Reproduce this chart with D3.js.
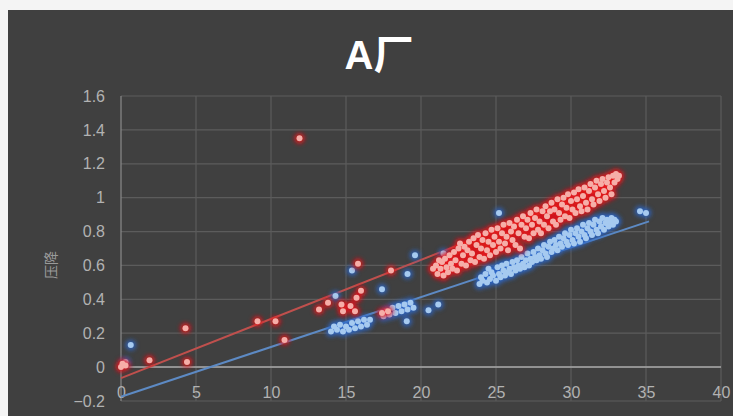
<!DOCTYPE html>
<html>
<head>
<meta charset="utf-8">
<script src="https://cdn.jsdelivr.net/npm/d3@7"></script>
<style>
  body { margin: 0; background: #f4f4f4; }
  svg { display: block; }
</style>
</head>
<body>
<svg id="canvas"></svg>
<script>
const width = 733;
const height = 416;

const title = 'A厂';
const yLabel = '压降';
const xTicks = [0, 5, 10, 15, 20, 25, 30, 35, 40];
const yTicks = [-0.2, 0, 0.2, 0.4, 0.6, 0.8, 1, 1.2, 1.4, 1.6];

// red series: scattered points, then the dense band
const redPoints = [
  [0, 0.0], [0.1, 0.02], [0.3, 0.01], [1.9, 0.04], [4.3, 0.23], [4.4, 0.03],
  [9.1, 0.27], [10.3, 0.27], [10.9, 0.16], [11.9, 1.35], [13.2, 0.34], [13.8, 0.38],
  [14.7, 0.37], [14.8, 0.33], [15.3, 0.36], [15.6, 0.33], [15.7, 0.41], [16.0, 0.45],
  [15.8, 0.61], [17.4, 0.32], [17.8, 0.33], [18.0, 0.57], [20.8, 0.58],
  [21.0, 0.60], [21.1, 0.55], [21.2, 0.63], [21.3, 0.58], [21.4, 0.62], [21.5, 0.54],
  [21.6, 0.64], [21.7, 0.59], [21.8, 0.56], [21.9, 0.66], [22.0, 0.61], [22.1, 0.58],
  [22.2, 0.68], [22.3, 0.63], [22.4, 0.57], [22.5, 0.70], [22.6, 0.73], [22.7, 0.61],
  [22.8, 0.66], [22.9, 0.71], [23.0, 0.60], [23.1, 0.69], [23.2, 0.74], [23.3, 0.63],
  [23.4, 0.67], [23.5, 0.76], [23.6, 0.62], [23.7, 0.72], [23.8, 0.78], [23.9, 0.65],
  [24.0, 0.70], [24.1, 0.75], [24.2, 0.64], [24.3, 0.79], [24.4, 0.69], [24.5, 0.74],
  [24.6, 0.66], [24.7, 0.81], [24.8, 0.72], [24.9, 0.77], [25.0, 0.68], [25.1, 0.82],
  [25.2, 0.74], [25.3, 0.70], [25.4, 0.79], [25.5, 0.84], [25.6, 0.73], [25.7, 0.77],
  [25.8, 0.69], [25.9, 0.85], [26.0, 0.80], [26.1, 0.75], [26.2, 0.83], [26.3, 0.72],
  [26.4, 0.87], [26.5, 0.79], [26.6, 0.70], [26.7, 0.84], [26.8, 0.89], [26.9, 0.77],
  [27.0, 0.82], [27.1, 0.87], [27.2, 0.76], [27.3, 0.91], [27.4, 0.84], [27.5, 0.79],
  [27.6, 0.88], [27.7, 0.93], [27.8, 0.81], [27.9, 0.86], [28.0, 0.79], [28.1, 0.92],
  [28.2, 0.84], [28.3, 0.95], [28.4, 0.89], [28.5, 0.82], [28.6, 0.92], [28.7, 0.97],
  [28.8, 0.86], [28.9, 0.93], [29.0, 0.84], [29.1, 0.99], [29.2, 0.91], [29.3, 0.87],
  [29.4, 0.96], [29.5, 1.00], [29.6, 0.89], [29.7, 0.94], [29.8, 1.02], [29.9, 0.88],
  [30.0, 0.98], [30.1, 0.93], [30.2, 1.03], [30.3, 0.91], [30.4, 0.99], [30.5, 1.05],
  [30.6, 0.95], [30.7, 0.92], [30.8, 1.01], [30.9, 1.06], [31.0, 0.97], [31.1, 0.93],
  [31.2, 1.04], [31.3, 1.08], [31.4, 0.99], [31.5, 0.96], [31.6, 1.06], [31.7, 1.10],
  [31.8, 1.02], [31.9, 0.98], [32.0, 1.08], [32.1, 1.11], [32.2, 1.04], [32.3, 1.00],
  [32.4, 1.09], [32.5, 1.12], [32.6, 1.06], [32.7, 1.02], [32.8, 1.13], [32.9, 1.09],
  [33.0, 1.14], [33.1, 1.11], [33.2, 1.13]
];

// blue series
const bluePoints = [
  [0.3, 0.03], [0.65, 0.13],
  [14.0, 0.21], [14.2, 0.24], [14.4, 0.22], [14.6, 0.25], [14.8, 0.21], [15.0, 0.24],
  [15.2, 0.22], [15.4, 0.26], [15.6, 0.23], [15.8, 0.27], [16.0, 0.24], [16.2, 0.28],
  [16.4, 0.25], [16.6, 0.28], [14.3, 0.42], [15.4, 0.57], [17.4, 0.46],
  [17.5, 0.30], [17.7, 0.33], [17.9, 0.31], [18.1, 0.35], [18.3, 0.32], [18.5, 0.36],
  [18.7, 0.33], [18.9, 0.37], [19.1, 0.34], [19.3, 0.38], [19.5, 0.35], [19.05, 0.27],
  [19.1, 0.55], [19.6, 0.66], [20.5, 0.335], [21.15, 0.37], [21.5, 0.67], [25.2, 0.91],
  [34.6, 0.92], [35.0, 0.91],
  [23.9, 0.49], [24.0, 0.53], [24.1, 0.51], [24.3, 0.55], [24.4, 0.50], [24.5, 0.58],
  [24.6, 0.52], [24.7, 0.56], [24.8, 0.54], [25.0, 0.51], [25.1, 0.59], [25.2, 0.55],
  [25.3, 0.53], [25.4, 0.60], [25.5, 0.57], [25.6, 0.54], [25.7, 0.61], [25.8, 0.56],
  [25.9, 0.58], [26.0, 0.55], [26.1, 0.62], [26.2, 0.59], [26.3, 0.57], [26.4, 0.63],
  [26.5, 0.60], [26.6, 0.58], [26.7, 0.65], [26.8, 0.61], [26.9, 0.59], [27.0, 0.63],
  [27.1, 0.67], [27.2, 0.60], [27.3, 0.64], [27.4, 0.62], [27.5, 0.68], [27.6, 0.65],
  [27.7, 0.63], [27.8, 0.70], [27.9, 0.66], [28.0, 0.64], [28.1, 0.69], [28.2, 0.72],
  [28.3, 0.67], [28.4, 0.65], [28.5, 0.71], [28.6, 0.74], [28.7, 0.68], [28.8, 0.70],
  [28.9, 0.75], [29.0, 0.72], [29.1, 0.69], [29.2, 0.77], [29.3, 0.73], [29.4, 0.71],
  [29.5, 0.76], [29.6, 0.79], [29.7, 0.74], [29.8, 0.72], [29.9, 0.78], [30.0, 0.81],
  [30.1, 0.75], [30.2, 0.73], [30.3, 0.79], [30.4, 0.82], [30.5, 0.77], [30.6, 0.74],
  [30.7, 0.80], [30.8, 0.84], [30.9, 0.78], [31.0, 0.76], [31.1, 0.82], [31.2, 0.85],
  [31.3, 0.80], [31.4, 0.78], [31.5, 0.84], [31.6, 0.87], [31.7, 0.81], [31.8, 0.79],
  [31.9, 0.86], [32.0, 0.83], [32.1, 0.88], [32.2, 0.81], [32.3, 0.85], [32.4, 0.87],
  [32.5, 0.83], [32.6, 0.86], [32.7, 0.88], [32.8, 0.84], [32.9, 0.87], [33.0, 0.86]
];

// linear trendlines (start, end)
const redTrend = [[0, -0.065], [33.1, 1.09]];
const blueTrend = [[0, -0.175], [35.2, 0.86]];

const svg = d3.select('#canvas').attr('width', width).attr('height', height);

const defs = svg.append('defs');
defs.append('filter').attr('id', 'glow')
  .attr('x', '-100%').attr('y', '-100%').attr('width', '300%').attr('height', '300%')
  .append('feGaussianBlur').attr('stdDeviation', 2.3);
defs.append('filter').attr('id', 'soft')
  .attr('x', '-50%').attr('y', '-50%').attr('width', '200%').attr('height', '200%')
  .append('feGaussianBlur').attr('stdDeviation', 0.7);

svg.append('rect')
  .attr('x', 8).attr('y', 10)
  .attr('width', width - 8).attr('height', height - 10)
  .attr('fill', '#404040');

const x = d3.scaleLinear().domain([0, 40]).range([121, 721]);
const y = d3.scaleLinear().domain([-0.2, 1.6]).range([401, 96]);

// gridlines
svg.append('g')
  .selectAll('line')
  .data(yTicks)
  .enter().append('line')
  .attr('x1', x(0)).attr('x2', x(40))
  .attr('y1', d => y(d)).attr('y2', d => y(d))
  .attr('stroke', '#5c5c5c').attr('stroke-width', 1.2);

svg.append('g')
  .selectAll('line')
  .data(xTicks.filter(d => d > 0))
  .enter().append('line')
  .attr('x1', d => x(d)).attr('x2', d => x(d))
  .attr('y1', y(1.6)).attr('y2', y(-0.2))
  .attr('stroke', '#5c5c5c').attr('stroke-width', 1.2);

// axis lines
svg.append('line')
  .attr('x1', x(0)).attr('x2', x(0)).attr('y1', y(1.6)).attr('y2', y(-0.2))
  .attr('stroke', '#8a8a8a').attr('stroke-width', 1.2);
svg.append('line')
  .attr('x1', x(0)).attr('x2', x(40)).attr('y1', y(0)).attr('y2', y(0))
  .attr('stroke', '#a8a8a8').attr('stroke-width', 1.5);

// tick labels
const yAxis = svg.append('g')
  .attr('transform', `translate(${x(0)},0)`)
  .call(d3.axisLeft(y).tickValues(yTicks).tickSize(0).tickPadding(16).tickFormat(d3.format('')));
const xAxis = svg.append('g')
  .attr('transform', `translate(0,${y(0)})`)
  .call(d3.axisBottom(x).tickValues(xTicks).tickSize(0).tickPadding(20));
[yAxis, xAxis].forEach(g => {
  g.select('.domain').remove();
  g.selectAll('text')
    .attr('fill', '#b2b2b2')
    .style('font-family', '"Liberation Sans", Arial, sans-serif')
    .style('font-size', '16px');
});

// trendlines
const line = d3.line().x(d => x(d[0])).y(d => y(d[1]));
svg.append('path').datum(blueTrend).attr('d', line)
  .attr('fill', 'none').attr('stroke', '#5d8ac4').attr('stroke-width', 2);
svg.append('path').datum(redTrend).attr('d', line)
  .attr('fill', 'none').attr('stroke', '#c0504d').attr('stroke-width', 2);

function drawSeries(points, glowColor, coreColor) {
  const g = svg.append('g');
  g.append('g').attr('filter', 'url(#glow)')
    .selectAll('circle')
    .data(points)
    .enter().append('circle')
    .attr('cx', d => x(d[0])).attr('cy', d => y(d[1]))
    .attr('r', 5.4)
    .attr('fill', glowColor)
    .attr('opacity', 0.8);
  g.append('g').attr('filter', 'url(#soft)')
    .selectAll('circle')
    .data(points)
    .enter().append('circle')
    .attr('cx', d => x(d[0])).attr('cy', d => y(d[1]))
    .attr('r', 3)
    .attr('fill', coreColor);
}

drawSeries(bluePoints, '#2a66c8', '#a6caf0');
drawSeries(redPoints, '#e8141a', '#f6aea8');

// title
svg.append('text')
  .attr('x', 379).attr('y', 69)
  .attr('text-anchor', 'middle')
  .attr('fill', '#ffffff')
  .style('font-family', '"Liberation Sans", "Noto Sans CJK SC", sans-serif')
  .style('font-weight', 'bold')
  .style('font-size', '40px')
  .text(title);

// y-axis title
svg.append('text')
  .attr('transform', `translate(56,265) rotate(-90)`)
  .attr('text-anchor', 'middle')
  .attr('fill', '#9a9a9a')
  .style('font-family', '"Noto Sans CJK SC", sans-serif')
  .style('font-size', '14px')
  .text(yLabel);
</script>
</body>
</html>
